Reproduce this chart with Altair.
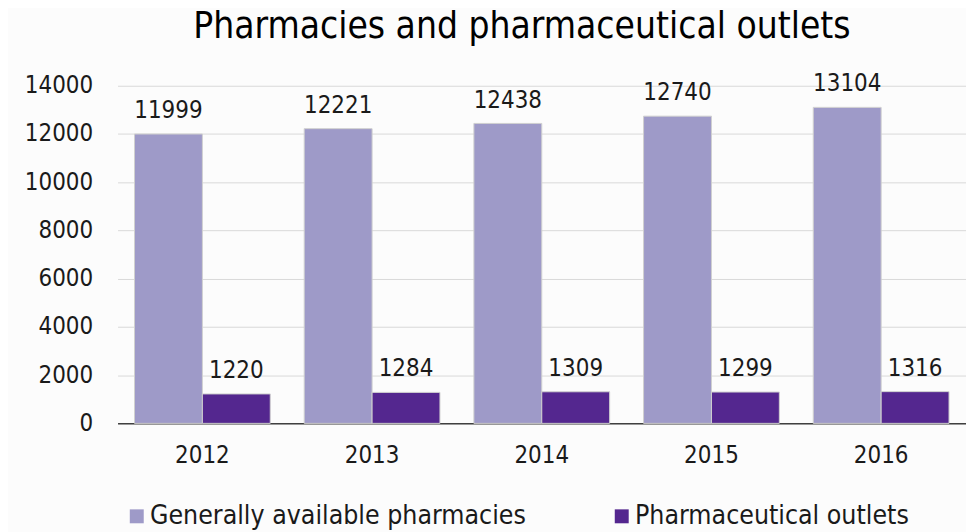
import altair as alt
import pandas as pd

years = ["2012", "2013", "2014", "2015", "2016"]
general = [11999, 12221, 12438, 12740, 13104]
outlets = [1220, 1284, 1309, 1299, 1316]
series = ["Generally available pharmacies", "Pharmaceutical outlets"]
colors = ["#9e9ac8", "#54278f"]
y_ticks = [0, 2000, 4000, 6000, 8000, 10000, 12000, 14000]

rows = []
for i, yr in enumerate(years):
    rows.append({"year": yr, "series": series[0], "value": general[i]})
    rows.append({"year": yr, "series": series[1], "value": outlets[i]})
df = pd.DataFrame(rows)

FONT = "DejaVu Sans Condensed, DejaVu Sans"

x = alt.X("year:N", title=None, sort=years,
          scale=alt.Scale(paddingInner=0.2, paddingOuter=0.1),
          axis=alt.Axis(labelAngle=0, labelFont=FONT, labelFontSize=24, labelColor="#1a1a1a",
                        labelPadding=20, ticks=False, domainColor="#404040", domainWidth=1.5))
xo = alt.XOffset("series:N", sort=series)
y = alt.Y("value:Q", title=None,
          scale=alt.Scale(domain=[0, 14000], nice=False),
          axis=alt.Axis(values=y_ticks, format="d", labelFont=FONT, labelFontSize=24,
                        labelColor="#1a1a1a", labelPadding=25, ticks=False, domain=False,
                        gridColor="#d9d9d9", gridWidth=1))
color = alt.Color("series:N", sort=series,
                  scale=alt.Scale(domain=series, range=colors),
                  legend=alt.Legend(title=None, orient="none", direction="horizontal",
                                    legendX=6, legendY=419, symbolType="square", symbolSize=196,
                                    symbolStrokeWidth=0, labelFont=FONT,
                                    labelFontSize=26.6, labelColor="#1a1a1a", labelOffset=0,
                                    labelLimit=0, columnPadding=82))

base = alt.Chart(df)
bars = base.mark_bar(stroke="#d0d0d0", strokeWidth=1).encode(x=x, xOffset=xo, y=y, color=color)
labels = base.mark_text(dy=-16, baseline="alphabetic", font=FONT, fontSize=24, color="#1a1a1a").encode(
    x=x, xOffset=xo, y=y, text=alt.Text("value:Q", format="d"))

chart = alt.layer(bars, labels).properties(
    width=852, height=339,
    title=alt.TitleParams("Pharmacies and pharmaceutical outlets", font=FONT, fontSize=37,
                          fontWeight="normal", color="#000000", anchor="middle", dx=-20, offset=27),
    autosize=alt.AutoSizeParams(type="none"),
    padding={"left": 110, "top": 77, "right": 0, "bottom": 108},
    background="#fcfcfc",
).configure_view(stroke=None)

chart.save("out.html", embed_options={"renderer": "svg", "actions": False})
